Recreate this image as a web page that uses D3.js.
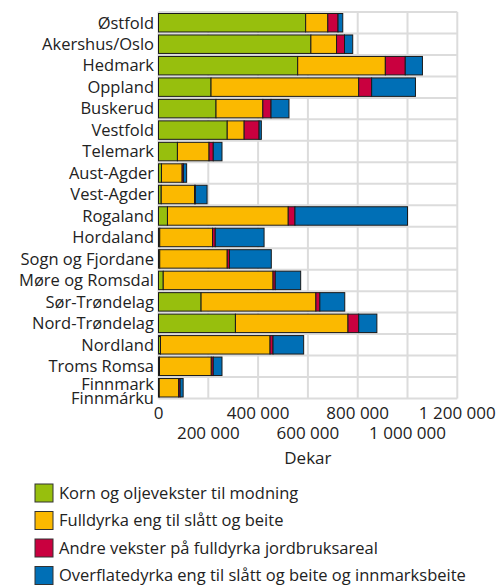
<!DOCTYPE html>
<html><head><meta charset="utf-8">
<script src="https://cdn.jsdelivr.net/npm/d3@7"></script>
<style>
body{margin:0;background:#fff;}
svg text{font-family:"Open Sans",sans-serif;fill:#222;}
</style></head>
<body><svg id="c" width="501" height="587"></svg>
<script>
const regions = ["Østfold","Akershus/Oslo","Hedmark","Oppland","Buskerud","Vestfold","Telemark","Aust-Agder","Vest-Agder","Rogaland","Hordaland","Sogn og Fjordane","Møre og Romsdal","Sør-Trøndelag","Nord-Trøndelag","Nordland","Troms Romsa","Finnmark\nFinnmárku"];
const korn =       [591000,612000,559000,211000,231000,276000, 76000, 12000, 11000, 36000,  5000,  5000, 19000,171000,309000,  8000,  4000,  3000];
const fulldyrka =  [ 89000,103000,352000,593000,188000, 68000,127000, 83000,134000,485000,212000,271000,441000,461000,452000,440000,208000, 78000];
const andre =      [ 41000, 32000, 80000, 52000, 33000, 60000, 17000,  5000,  3000, 27000, 11000,  9000,  9000, 16000, 43000, 12000,  8000,  6000];
const overflate =  [ 19000, 33000, 69000,176000, 72000,  9000, 35000, 13000, 47000,452000,196000,168000,102000,100000, 73000,123000, 35000, 12000];
const seriesNames = ["Korn og oljevekster til modning","Fulldyrka eng til slått og beite","Andre vekster på fulldyrka jordbruksareal","Overflatedyrka eng til slått og beite og innmarksbeite"];
const seriesKeys = ["korn","fulldyrka","andre","overflate"];
const colors = ["#97bf0d","#fbb900","#c9003f","#006fb6"];
const xTicks = [0,200000,400000,600000,800000,1000000,1200000];
const xTitle = "Dekar";

const rows = regions.map((r,i)=>({region:r,korn:korn[i],fulldyrka:fulldyrka[i],andre:andre[i],overflate:overflate[i]}));
const svg = d3.select("#c");
const L=158.5, R=457.3, T=12, B=398.5;
const x = d3.scaleLinear().domain([0,1200000]).range([L,R]);
const y = d3.scaleBand().domain(regions).range([T,B]).paddingInner(0.14).paddingOuter(0.07);
const grid = "#dcdcdc";

// vertical grid
svg.append("g").selectAll("line").data(xTicks).join("line")
  .attr("x1",d=>x(d)).attr("x2",d=>x(d)).attr("y1",T).attr("y2",B)
  .attr("stroke",grid).attr("stroke-width",2);
// horizontal grid
svg.append("g").selectAll("line").data(d3.range(0,regions.length+1)).join("line")
  .attr("x1",L).attr("x2",R).attr("y1",d=>T+d*(B-T)/regions.length).attr("y2",d=>T+d*(B-T)/regions.length)
  .attr("stroke",grid).attr("stroke-width",2);

const stack = d3.stack().keys(seriesKeys)(rows);
svg.append("g").selectAll("g").data(stack).join("g")
  .attr("fill",(d,i)=>colors[i])
  .selectAll("rect").data(d=>d).join("rect")
  .attr("x",d=>x(d[0])).attr("width",d=>Math.max(0,x(d[1])-x(d[0])))
  .attr("y",d=>y(d.data.region)).attr("height",y.bandwidth())
  .attr("stroke","#1a1a1a").attr("stroke-width",1);

// y labels
const yl = svg.append("g").selectAll("text").data(regions).join("text")
  .attr("text-anchor","end").attr("font-size",16.5);
yl.each(function(d){
  const parts = d.split("\n"); const t=d3.select(this);
  const c = y(d)+y.bandwidth()/2;
  if(parts.length===1){
    t.attr("x",154).attr("y",c).attr("dy","0.35em").text(d);
  } else {
    parts.forEach((p,i)=>{
      t.append("tspan").attr("x",154).attr("y", c + (i===0 ? 1.8 : 16)).text(p);
    });
  }
});

// x tick labels
const fmt = v=>d3.format(",")(v).replace(/,/g," ");
svg.append("g").selectAll("text").data(xTicks).join("text")
  .attr("text-anchor","middle").attr("font-size",17)
  .attr("x",d=>x(d)).attr("y",(d,i)=> i%2===0 ? 419 : 438.5)
  .text(fmt);
svg.append("text").attr("x",(L+R)/2).attr("y",464).attr("text-anchor","middle").attr("font-size",17).text(xTitle);

// legend
const lg = svg.append("g").selectAll("g").data(seriesNames).join("g")
  .attr("transform",(d,i)=>`translate(35,${484+i*27.5})`);
lg.append("rect").attr("width",18).attr("height",18).attr("fill",(d,i)=>colors[i]).attr("stroke","#333").attr("stroke-width",1);
lg.append("text").attr("x",24).attr("y",9).attr("dy","0.35em").attr("font-size",16.5).text(d=>d);
</script></body></html>
